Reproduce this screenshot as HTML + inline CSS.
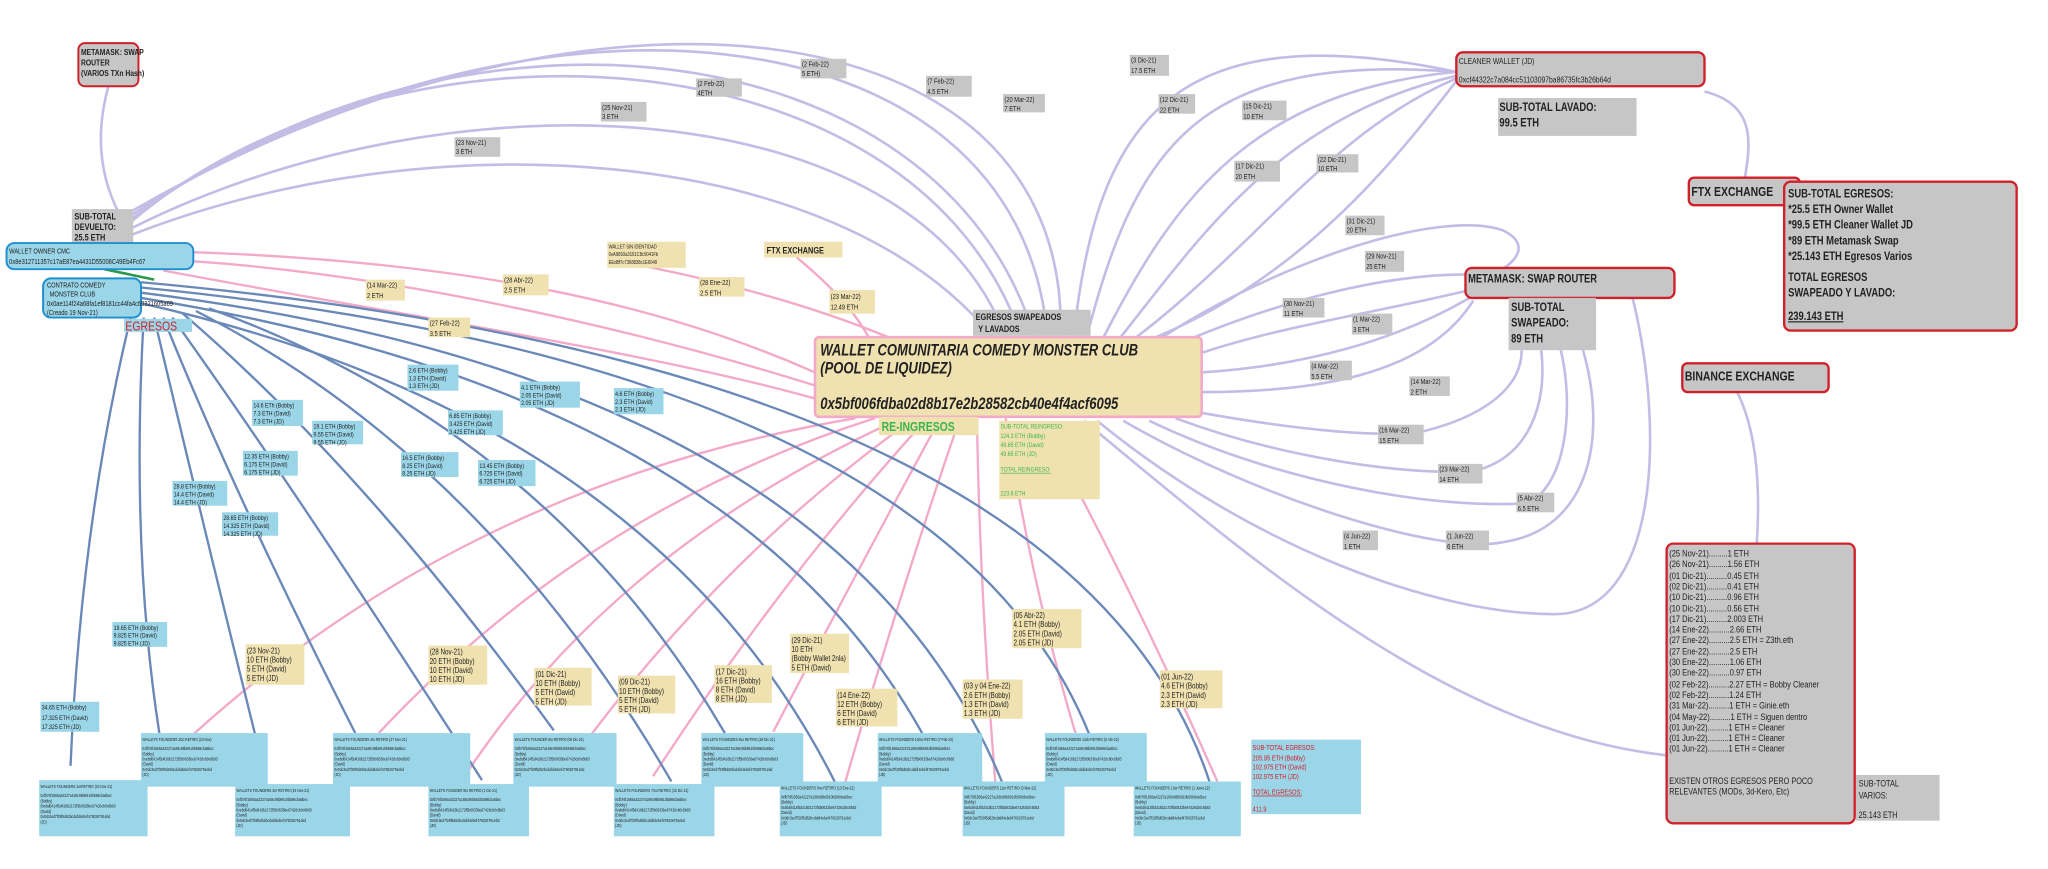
<!DOCTYPE html>
<html><head><meta charset="utf-8"><style>
html,body{margin:0;padding:0;background:#fff;}
svg{display:block;}
text{font-family:"Liberation Sans Narrow","Liberation Sans",sans-serif;fill:#222;transform-box:fill-box;transform-origin:left center;transform:scaleX(0.8);}
.b{font-weight:bold;}
.pu{fill:none;stroke:#c3bde6;stroke-width:2;}
.pk{fill:none;stroke:#f3a9c8;stroke-width:1.8;}
.bl{fill:none;stroke:#6a88b8;stroke-width:1.8;}
.g{fill:#c6c6c6;}
.y{fill:#f0e2b0;}
.c{fill:#9bd6e8;}
</style></head><body>
<svg width="2048" height="869" viewBox="0 0 1568 665" preserveAspectRatio="none" xmlns="http://www.w3.org/2000/svg">
<rect width="1568" height="665" fill="#fff"/>
<path class="pu" d="M83,66 Q68,120 92,165"/>
<path class="pu" d="M100,180 C330,90 640,110 760,258"/>
<path class="pu" d="M100,175 C350,50 700,70 770,258"/>
<path class="pu" d="M100,170 C300,0 700,20 782,258"/>
<path class="pu" d="M100,168 C350,-20 720,20 792,258"/>
<path class="pu" d="M100,165 C400,-30 780,0 802,258"/>
<path class="pu" d="M100,162 C450,-40 820,0 812,258"/>
<path class="pu" d="M822,258 C840,90 900,10 1115,55"/>
<path class="pu" d="M832,258 C870,110 920,40 1115,55"/>
<path class="pu" d="M845,258 C900,150 960,70 1115,55"/>
<path class="pu" d="M858,258 C920,180 980,90 1115,58"/>
<path class="pu" d="M870,258 C960,190 1020,100 1115,60"/>
<path class="pu" d="M885,258 C1000,210 1070,120 1115,62"/>
<path class="pu" d="M1305,70 C1345,80 1340,110 1336,136"/>
<path class="pu" d="M890,258 C980,200 1100,160 1150,176 C1180,190 1150,210 1130,215"/>
<path class="pu" d="M905,262 C980,230 1060,210 1122,210"/>
<path class="pu" d="M920,270 C980,250 1050,240 1125,222"/>
<path class="pu" d="M920,285 C1000,280 1070,260 1125,228"/>
<path class="pu" d="M920,300 C1000,300 1090,290 1128,230"/>
<path class="pu" d="M920,316 C1000,330 1060,335 1090,330 C1130,320 1165,300 1165,268"/>
<path class="pu" d="M900,320 C980,350 1080,365 1130,360 C1170,350 1185,310 1180,268"/>
<path class="pu" d="M880,322 C980,370 1100,390 1170,385 C1200,370 1205,310 1195,268"/>
<path class="pu" d="M860,322 C960,380 1100,425 1150,415 C1220,405 1230,330 1212,268"/>
<path class="pu" d="M840,322 C960,420 1100,470 1190,470 C1270,470 1275,330 1250,228"/>
<path class="pu" d="M830,322 C960,430 1110,560 1276,578"/>
<path class="pu" d="M1330,300 Q1350,340 1345,416"/>
<path class="pk" d="M148,193 C350,200 500,230 624,285"/>
<path class="pk" d="M148,200 C300,210 480,250 624,295"/>
<path class="pk" d="M125,207 C300,240 500,270 624,305"/>
<path class="pk" d="M490,203 Q600,225 680,258"/>
<path class="pk" d="M610,197 Q650,230 665,258"/>
<path class="pk" d="M655,320 Q360,370 148,562"/>
<path class="pk" d="M670,320 Q450,390 290,561"/>
<path class="pk" d="M690,320 Q470,420 355,595"/>
<path class="pk" d="M700,320 Q560,420 452,563"/>
<path class="pk" d="M710,320 Q600,440 500,594"/>
<path class="pk" d="M720,320 Q660,430 592,560"/>
<path class="pk" d="M735,320 Q690,450 647,599"/>
<path class="pk" d="M748,320 Q750,450 762,598"/>
<path class="pk" d="M770,320 Q790,450 824,563"/>
<path class="pk" d="M825,375 Q880,480 932,598"/>
<line x1="80" y1="206" x2="118" y2="214" stroke="#2a9a4a" stroke-width="2"/>
<path class="bl" d="M100,243 Q62,400 54,586"/>
<path class="bl" d="M110,243 Q100,420 122,561"/>
<path class="bl" d="M118,243 Q155,400 203,593"/>
<path class="bl" d="M125,243 Q180,380 272,561"/>
<path class="bl" d="M132,243 Q230,380 369,597"/>
<path class="bl" d="M140,240 Q280,360 424,559"/>
<path class="bl" d="M150,238 Q370,350 514,598"/>
<path class="bl" d="M160,236 Q420,330 555,561"/>
<path class="bl" d="M108,232 Q500,320 640,600"/>
<path class="bl" d="M108,228 Q560,300 706,561"/>
<path class="bl" d="M108,224 Q640,290 767,598"/>
<path class="bl" d="M108,220 Q720,280 834,562"/>
<path class="bl" d="M108,216 Q820,280 926,598"/>

<rect x="60" y="33" width="46" height="33" rx="5" fill="#c6c6c6" stroke="#d0202a" stroke-width="1.5"/>
<text x="62" y="42" font-size="6.5" class="b">METAMASK: SWAP</text>
<text x="62" y="50" font-size="6.5" class="b">ROUTER</text>
<text x="62" y="58" font-size="6.5" class="b">(VARIOS TXn Hash)</text>
<rect x="55" y="160" width="47" height="27" class="g"/>
<text x="57" y="168" font-size="7" class="b">SUB-TOTAL</text>
<text x="57" y="176" font-size="7" class="b">DEVUELTO:</text>
<text x="57" y="184" font-size="7" class="b">25.5 ETH</text>
<rect x="5" y="186" width="143" height="20" rx="6" fill="#9bd6e8" stroke="#1f8fd0" stroke-width="1.5"/>
<text x="7" y="194" font-size="5.5">WALLET OWNER CMC</text>
<text x="7" y="202" font-size="5.5">0x8e312711357c17aE87ea4431D55008C49Eb4Fc67</text>
<rect x="33" y="213" width="75" height="30" rx="6" fill="#9bd6e8" stroke="#1f8fd0" stroke-width="1.5"/>
<text x="36" y="220" font-size="5.5">CONTRATO COMEDY</text>
<text x="38" y="227" font-size="5.5">MONSTER CLUB</text>
<text x="36" y="234" font-size="5.5">0x0ae114f24a68fa1ef8181cc44fa4c60321605a69</text>
<text x="36" y="241" font-size="5.5">(Creado 19 Nov-21)</text>
<rect x="95" y="244" width="52" height="10" class="c"/>
<text x="96" y="253" font-size="10" style="fill:#d0202a">EGRESOS</text>

<rect x="624" y="258" width="296" height="61" fill="#f0e2b0" stroke="#f3a9c8" stroke-width="2" rx="3"/>
<text x="628" y="272" font-size="12.5" class="b" font-style="italic">WALLET COMUNITARIA COMEDY MONSTER CLUB</text>
<text x="628" y="286" font-size="12.5" class="b" font-style="italic">(POOL DE LIQUIDEZ)</text>
<text x="628" y="313" font-size="12.5" class="b" font-style="italic">0x5bf006fdba02d8b17e2b28582cb40e4f4acf6095</text>
<rect x="745" y="237" width="90" height="20" class="g"/>
<text x="747" y="245" font-size="7" class="b">EGRESOS SWAPEADOS</text>
<text x="749" y="254" font-size="7" class="b">Y LAVADOS</text>
<rect x="673" y="319" width="76" height="14" fill="#f0e2b0"/>
<text x="675" y="330" font-size="10" class="b" style="fill:#3bb54a">RE-INGRESOS</text>
<rect x="765" y="322" width="77" height="60" class="y"/>
<g font-size="5">
<text x="766" y="328" style="fill:#3bb54a">SUB-TOTAL REINGRESO:</text>
<text x="766" y="335" style="fill:#3bb54a">124.3 ETH (Bobby)</text>
<text x="766" y="342" style="fill:#3bb54a">49.65 ETH (David)</text>
<text x="766" y="349" style="fill:#3bb54a">49.65 ETH (JD)</text>
<text x="766" y="361" style="fill:#3bb54a;text-decoration:underline">TOTAL REINGRESO:</text>
<text x="766" y="379" style="fill:#3bb54a">223.6 ETH</text>
</g>
<rect x="465" y="185" width="60" height="20" class="y"/>
<text x="466" y="190" font-size="4">WALLET SIN IDENTIDAD</text>
<text x="466" y="196" font-size="4">0xA9893a3191C8c9041Fb</text>
<text x="466" y="202" font-size="4">EEd8f7c7368838c1E6049</text>
<rect x="585" y="185" width="60" height="12" class="y"/>
<text x="587" y="194" font-size="7" class="b">FTX EXCHANGE</text>

<rect x="1115" y="40" width="190" height="26" rx="5" fill="#c6c6c6" stroke="#d0202a" stroke-width="1.8"/>
<text x="1117" y="49" font-size="6.5">CLEANER WALLET (JD)</text>
<text x="1117" y="63" font-size="6.5">0xcf44322c7a084cc51103097ba86735fc3b26b64d</text>
<rect x="1147" y="75" width="106" height="29" class="g"/>
<text x="1148" y="85" font-size="9" class="b">SUB-TOTAL LAVADO:</text>
<text x="1148" y="97" font-size="9" class="b">99.5 ETH</text>
<rect x="1293" y="136" width="85" height="21" rx="4" fill="#c6c6c6" stroke="#d0202a" stroke-width="1.8"/>
<text x="1295" y="150" font-size="10" class="b">FTX EXCHANGE</text>
<rect x="1366" y="139" width="178" height="114" rx="5" fill="#c6c6c6" stroke="#d0202a" stroke-width="1.8"/>
<g font-size="9" class="b">
<text x="1369" y="151">SUB-TOTAL EGRESOS:</text>
<text x="1369" y="163">*25.5 ETH Owner Wallet</text>
<text x="1369" y="175">*99.5 ETH Cleaner Wallet JD</text>
<text x="1369" y="187">*89 ETH Metamask Swap</text>
<text x="1369" y="199">*25.143 ETH Egresos Varios</text>
<text x="1369" y="215">TOTAL EGRESOS</text>
<text x="1369" y="227">SWAPEADO Y LAVADO:</text>
<text x="1369" y="245" style="text-decoration:underline">239.143 ETH</text>
</g>
<rect x="1122" y="205" width="160" height="23" rx="5" fill="#c6c6c6" stroke="#d0202a" stroke-width="1.8"/>
<text x="1124" y="216" font-size="9" class="b">METAMASK: SWAP ROUTER</text>
<rect x="1155" y="228" width="67" height="40" class="g"/>
<text x="1157" y="238" font-size="9" class="b">SUB-TOTAL</text>
<text x="1157" y="250" font-size="9" class="b">SWAPEADO:</text>
<text x="1157" y="262" font-size="9" class="b">89 ETH</text>
<rect x="1288" y="278" width="112" height="22" rx="4" fill="#c6c6c6" stroke="#d0202a" stroke-width="1.8"/>
<text x="1290" y="291" font-size="10" class="b">BINANCE EXCHANGE</text>
<rect x="1276" y="416" width="144" height="214" rx="5" fill="#c6c6c6" stroke="#d0202a" stroke-width="1.8"/>
<g font-size="7.2">
<text x="1278" y="426">(25 Nov-21).........1 ETH</text>
<text x="1278" y="434">(26 Nov-21).........1.56 ETH</text>
<text x="1278" y="443">(01 Dic-21)..........0.45 ETH</text>
<text x="1278" y="451">(02 Dic-21)..........0.41 ETH</text>
<text x="1278" y="459">(10 Dic-21)..........0.96 ETH</text>
<text x="1278" y="468">(10 Dic-21)..........0.56 ETH</text>
<text x="1278" y="476">(17 Dic-21)..........2.003 ETH</text>
<text x="1278" y="484">(14 Ene-22)..........2.66 ETH</text>
<text x="1278" y="492">(27 Ene-22)..........2.5 ETH  = Z3th.eth</text>
<text x="1278" y="501">(27 Ene-22)..........2.5 ETH</text>
<text x="1278" y="509">(30 Ene-22)..........1.06 ETH</text>
<text x="1278" y="517">(30 Ene-22)..........0.97 ETH</text>
<text x="1278" y="526">(02 Feb-22)..........2.27 ETH = Bobby Cleaner</text>
<text x="1278" y="534">(02 Feb-22)..........1.24 ETH</text>
<text x="1278" y="542">(31 Mar-22)..........1 ETH = Ginie.eth</text>
<text x="1278" y="551">(04 May-22)..........1 ETH = Siguen dentro</text>
<text x="1278" y="559">(01 Jun-22)..........1 ETH = Cleaner</text>
<text x="1278" y="567">(01 Jun-22)..........1 ETH = Cleaner</text>
<text x="1278" y="575">(01 Jun-22)..........1 ETH = Cleaner</text>
</g>
<g font-size="7"><text x="1278" y="600">EXISTEN OTROS EGRESOS PERO POCO</text><text x="1278" y="608">RELEVANTES (MODs, 3d-Kero, Etc)</text></g>
<rect x="1421" y="593" width="64" height="35" class="g"/>
<text x="1423" y="602" font-size="7">SUB-TOTAL</text>
<text x="1423" y="611" font-size="7">VARIOS:</text>
<text x="1423" y="626" font-size="7">25.143 ETH</text>

<rect x="958" y="566" width="84" height="57" class="c"/>
<g font-size="5.5">
<text x="959" y="574" style="fill:#d0202a">SUB-TOTAL EGRESOS:</text>
<text x="959" y="582" style="fill:#d0202a">205.95 ETH (Bobby)</text>
<text x="959" y="589" style="fill:#d0202a">102.975 ETH (David)</text>
<text x="959" y="596" style="fill:#d0202a">102.975 ETH (JD)</text>
<text x="959" y="608" style="fill:#d0202a;text-decoration:underline">TOTAL EGRESOS:</text>
<text x="959" y="621" style="fill:#d0202a">411.9</text>
</g>

<g font-size="5.5">
<rect x="348" y="105" width="35" height="15" class="g"/><text x="349" y="111">(23 Nov-21)</text><text x="349" y="118">3 ETH</text>
<rect x="460" y="78" width="35" height="15" class="g"/><text x="461" y="84">(25 Nov-21)</text><text x="461" y="91">3 ETH</text>
<rect x="533" y="60" width="35" height="14" class="g"/><text x="534" y="66">(2 Feb-22)</text><text x="534" y="73">4ETH</text>
<rect x="613" y="45" width="35" height="15" class="g"/><text x="614" y="51">(2 Feb-22)</text><text x="614" y="58">5 ETH)</text>
<rect x="709" y="58" width="35" height="16" class="g"/><text x="710" y="64">(7 Feb-22)</text><text x="710" y="72">4.5 ETH</text>
<rect x="768" y="72" width="32" height="14" class="g"/><text x="769" y="78">(20 Mar-22)</text><text x="769" y="85">7 ETH</text>
<rect x="865" y="42" width="30" height="16" class="g"/><text x="866" y="48">(3 Dic-21)</text><text x="866" y="56">17.5 ETH</text>
<rect x="887" y="72" width="28" height="15" class="g"/><text x="888" y="78">(12 Dic-21)</text><text x="888" y="86">22 ETH</text>
<rect x="951" y="77" width="34" height="15" class="g"/><text x="952" y="83">(15 Dic-21)</text><text x="952" y="91">10 ETH</text>
<rect x="945" y="123" width="35" height="16" class="g"/><text x="946" y="129">(17 Dic-21)</text><text x="946" y="137">20 ETH</text>
<rect x="1008" y="118" width="32" height="14" class="g"/><text x="1009" y="124">(22 Dic-21)</text><text x="1009" y="131">10 ETH</text>
<rect x="1030" y="165" width="30" height="15" class="g"/><text x="1031" y="171">(31 Dic-21)</text><text x="1031" y="178">20 ETH</text>
<rect x="1045" y="192" width="30" height="16" class="g"/><text x="1046" y="198">(29 Nov-21)</text><text x="1046" y="206">25 ETH</text>
<rect x="982" y="228" width="32" height="15" class="g"/><text x="983" y="234">(30 Nov-21)</text><text x="983" y="242">11 ETH</text>
<rect x="1035" y="240" width="31" height="16" class="g"/><text x="1036" y="246">(1 Mar-22)</text><text x="1036" y="254">3 ETH</text>
<rect x="1003" y="276" width="32" height="15" class="g"/><text x="1004" y="282">(4 Mar-22)</text><text x="1004" y="290">5.5 ETH</text>
<rect x="1079" y="288" width="31" height="15" class="g"/><text x="1080" y="294">(14 Mar-22)</text><text x="1080" y="302">2 ETH</text>
<rect x="1055" y="325" width="35" height="15" class="g"/><text x="1056" y="331">(16 Mar-22)</text><text x="1056" y="339">15 ETH</text>
<rect x="1101" y="355" width="34" height="15" class="g"/><text x="1102" y="361">(23 Mar-22)</text><text x="1102" y="369">14 ETH</text>
<rect x="1161" y="377" width="29" height="15" class="g"/><text x="1162" y="383">(5 Abr-22)</text><text x="1162" y="391">6.5 ETH</text>
<rect x="1107" y="406" width="33" height="15" class="g"/><text x="1108" y="412">(1 Jun-22)</text><text x="1108" y="420">6 ETH</text>
<rect x="1028" y="406" width="27" height="15" class="g"/><text x="1029" y="412">(4 Jun-22)</text><text x="1029" y="420">1 ETH</text>
</g>
<g font-size="5.5">
<rect x="280" y="214" width="30" height="16" class="y"/><text x="281" y="220">(14 Mar-22)</text><text x="281" y="228">2 ETH</text>
<rect x="385" y="210" width="35" height="16" class="y"/><text x="386" y="216">(28 Abr-22)</text><text x="386" y="224">2.5 ETH</text>
<rect x="328" y="243" width="32" height="15" class="y"/><text x="329" y="249">(27 Feb-22)</text><text x="329" y="257">3.5 ETH</text>
<rect x="535" y="212" width="35" height="15" class="y"/><text x="536" y="218">(28 Ene-22)</text><text x="536" y="226">2.5 ETH</text>
<rect x="635" y="222" width="35" height="18" class="y"/><text x="636" y="229">(23 Mar-22)</text><text x="636" y="237">12.49 ETH</text>
</g>
<g font-size="5">
<rect x="31" y="537" width="45" height="23" class="c"/><text x="32" y="543">34.65 ETH (Bobby)</text><text x="32" y="551">17.325 ETH (David)</text><text x="32" y="558">17.325 ETH (JD)</text>
<rect x="86" y="476" width="42" height="19" class="c"/><text x="87" y="482">19.65 ETH (Bobby)</text><text x="87" y="488">9.825 ETH (David)</text><text x="87" y="494">9.825 ETH (JD)</text>
<rect x="132" y="368" width="42" height="19" class="c"/><text x="133" y="374">28.8 ETH (Bobby)</text><text x="133" y="380">14.4 ETH (David)</text><text x="133" y="386">14.4 ETH (JD)</text>
<rect x="170" y="392" width="43" height="18" class="c"/><text x="171" y="398">28.65 ETH (Bobby)</text><text x="171" y="404">14.325 ETH (David)</text><text x="171" y="410">14.325 ETH (JD)</text>
<rect x="186" y="345" width="42" height="19" class="c"/><text x="187" y="351">12.35 ETH (Bobby)</text><text x="187" y="357">6.175 ETH (David)</text><text x="187" y="363">6.175 ETH (JD)</text>
<rect x="193" y="306" width="39" height="20" class="c"/><text x="194" y="312">14.6 ETh (Bobby)</text><text x="194" y="318">7.3 ETH (David)</text><text x="194" y="324">7.3 ETH (JD)</text>
<rect x="239" y="322" width="39" height="18" class="c"/><text x="240" y="328">19.1 ETH (Bobby)</text><text x="240" y="334">9.55 ETH (David)</text><text x="240" y="340">9.55 ETH (JD)</text>
<rect x="307" y="346" width="44" height="19" class="c"/><text x="308" y="352">16.5 ETH (Bobby)</text><text x="308" y="358">8.25 ETH (David)</text><text x="308" y="364">8.25 ETH (JD)</text>
<rect x="366" y="352" width="44" height="20" class="c"/><text x="367" y="358">13.45 ETH (Bobby)</text><text x="367" y="364">6.725 ETH (David)</text><text x="367" y="370">6.725 ETH (JD)</text>
<rect x="312" y="279" width="39" height="20" class="c"/><text x="313" y="285">2.6 ETH (Bobby)</text><text x="313" y="291">1.3 ETH (David)</text><text x="313" y="297">1.3 ETH (JD)</text>
<rect x="343" y="314" width="42" height="19" class="c"/><text x="344" y="320">6.85 ETH (Bobby)</text><text x="344" y="326">3.425 ETH (David)</text><text x="344" y="332">3.425 ETH (JD)</text>
<rect x="398" y="292" width="46" height="20" class="c"/><text x="399" y="298">4.1 ETH (Bobby)</text><text x="399" y="304">2.05 ETH (David)</text><text x="399" y="310">2.05 ETH (JD)</text>
<rect x="470" y="297" width="38" height="20" class="c"/><text x="471" y="303">4.6 ETH (Bobby)</text><text x="471" y="309">2.3 ETH (David)</text><text x="471" y="315">2.3 ETH (JD)</text>
</g>
<g font-size="6">
<rect x="188" y="493" width="45" height="31" class="y"/><text x="189" y="500">(23 Nov-21)</text><text x="189" y="507">10 ETH (Bobby)</text><text x="189" y="514">5 ETH (David)</text><text x="189" y="521">5 ETH (JD)</text>
<rect x="328" y="494" width="45" height="30" class="y"/><text x="329" y="501">(28 Nov-21)</text><text x="329" y="508">20 ETH (Bobby)</text><text x="329" y="515">10 ETH (David)</text><text x="329" y="522">10 ETH (JD)</text>
<rect x="409" y="511" width="44" height="29" class="y"/><text x="410" y="518">(01 Dic-21)</text><text x="410" y="525">10 ETH (Bobby)</text><text x="410" y="532">5 ETH (David)</text><text x="410" y="539">5 ETH (JD)</text>
<rect x="473" y="517" width="44" height="29" class="y"/><text x="474" y="524">(09 Dic-21)</text><text x="474" y="531">10 ETH (Bobby)</text><text x="474" y="538">5 ETH (David)</text><text x="474" y="545">5 ETH (JD)</text>
<rect x="547" y="509" width="44" height="29" class="y"/><text x="548" y="516">(17 Dic-21)</text><text x="548" y="523">16 ETH (Bobby)</text><text x="548" y="530">8 ETH (David)</text><text x="548" y="537">8 ETH (JD)</text>
<rect x="605" y="485" width="45" height="30" class="y"/><text x="606" y="492">(29 Dic-21)</text><text x="606" y="499">10 ETH</text><text x="606" y="506">(Bobby Wallet 2nla)</text><text x="606" y="513">5 ETH (David)</text>
<rect x="640" y="527" width="47" height="29" class="y"/><text x="641" y="534">(14 Ene-22)</text><text x="641" y="541">12 ETH (Bobby)</text><text x="641" y="548">6 ETH (David)</text><text x="641" y="555">6 ETH (JD)</text>
<rect x="737" y="520" width="46" height="30" class="y"/><text x="738" y="527">(03 y 04 Ene-22)</text><text x="738" y="534">2.6 ETH (Bobby)</text><text x="738" y="541">1.3 ETH (David)</text><text x="738" y="548">1.3 ETH (JD)</text>
<rect x="775" y="466" width="53" height="30" class="y"/><text x="776" y="473">(05 Abr-22)</text><text x="776" y="480">4.1 ETH (Bobby)</text><text x="776" y="487">2.05 ETH (David)</text><text x="776" y="494">2.05 ETH (JD)</text>
<rect x="888" y="513" width="48" height="29" class="y"/><text x="889" y="520">(01 Jun-22)</text><text x="889" y="527">4.6 ETH (Bobby)</text><text x="889" y="534">2.3 ETH (David)</text><text x="889" y="541">2.3 ETH (JD)</text>
</g>
<g font-size="3.2">
<rect x="30" y="597" width="83" height="43" class="c"/><text x="31" y="603">WALLETS FOUNDERS 1erRETIRO (23 Nov-21)</text><text x="31" y="610">0xfb76f1656a42227a168c98b6910b598cba6bec</text><text x="31" y="614">(Bobby)</text><text x="31" y="618">0xebd6414f5d416b2172f5b0633be67426cb0c6b83</text><text x="31" y="622">(David)</text><text x="31" y="626">0x0dc3ed7f29f5d62bcdafd4ebef476026791ebd</text><text x="31" y="630">(JD)</text>
<rect x="108" y="561" width="97" height="41" class="c"/><text x="109" y="567">WALLETS FOUNDERS 2Do RETIRO (23 Nov)</text><text x="109" y="574">0xfb76f1656a42227a168c98b6910b598cba6bec</text><text x="109" y="578">(Bobby)</text><text x="109" y="582">0xebd6414f5d416b2172f5b0633be67426cb0c6b83</text><text x="109" y="586">(David)</text><text x="109" y="590">0x0dc3ed7f29f5d62bcdafd4ebef476026791ebd</text><text x="109" y="594">(JD)</text>
<rect x="180" y="600" width="88" height="40" class="c"/><text x="181" y="606">WALLETS FOUNDERS 3er RETIRO (24 Nov-21)</text><text x="181" y="613">0xfb76f1656a42227a168c98b6910b598cba6bec</text><text x="181" y="617">(Bobby)</text><text x="181" y="621">0xebd6414f5d416b2172f5b0633be67426cb0c6b83</text><text x="181" y="625">(David)</text><text x="181" y="629">0x0dc3ed7f29f5d62bcdafd4ebef476026791ebd</text><text x="181" y="633">(JD)</text>
<rect x="255" y="561" width="105" height="41" class="c"/><text x="256" y="567">WALLETS FOUNDERS 4to RETIRO (27 Nov-21)</text><text x="256" y="574">0xfb76f1656a42227a168c98b6910b598cba6bec</text><text x="256" y="578">(Bobby)</text><text x="256" y="582">0xebd6414f5d416b2172f5b0633be67426cb0c6b83</text><text x="256" y="586">(David)</text><text x="256" y="590">0x0dc3ed7f29f5d62bcdafd4ebef476026791ebd</text><text x="256" y="594">(JD)</text>
<rect x="328" y="600" width="77" height="40" class="c"/><text x="329" y="606">WALLETS FOUNDER 5to RETIRO (1 Dic-21)</text><text x="329" y="613">0xfb76f1656a42227a168c98b6910b598cba6bec</text><text x="329" y="617">(Bobby)</text><text x="329" y="621">0xebd6414f5d416b2172f5b0633be67426cb0c6b83</text><text x="329" y="625">(David)</text><text x="329" y="629">0x0dc3ed7f29f5d62bcdafd4ebef476026791ebd</text><text x="329" y="633">(JD)</text>
<rect x="393" y="561" width="79" height="41" class="c"/><text x="394" y="567">WALLETS FOUNDER 6to RETIRO (09 Dic-21)</text><text x="394" y="574">0xfb76f1656a42227a168c98b6910b598cba6bec</text><text x="394" y="578">(Bobby)</text><text x="394" y="582">0xebd6414f5d416b2172f5b0633be67426cb0c6b83</text><text x="394" y="586">(David)</text><text x="394" y="590">0x0dc3ed7f29f5d62bcdafd4ebef476026791ebd</text><text x="394" y="594">(JD)</text>
<rect x="470" y="600" width="77" height="40" class="c"/><text x="471" y="606">WALLETS FOUNDERS 7mo RETIRO (15 Dic-21)</text><text x="471" y="613">0xfb76f1656a42227a168c98b6910b598cba6bec</text><text x="471" y="617">(Bobby)</text><text x="471" y="621">0xebd6414f5d416b2172f5b0633be67426cb0c6b83</text><text x="471" y="625">(David)</text><text x="471" y="629">0x0dc3ed7f29f5d62bcdafd4ebef476026791ebd</text><text x="471" y="633">(JD)</text>
<rect x="537" y="561" width="78" height="41" class="c"/><text x="538" y="567">WALLETS FOUNDERS 8vo RETIRO (29 Dic-21)</text><text x="538" y="574">0xfb76f1656a42227a168c98b6910b598cba6bec</text><text x="538" y="578">(Bobby)</text><text x="538" y="582">0xebd6414f5d416b2172f5b0633be67426cb0c6b83</text><text x="538" y="586">(David)</text><text x="538" y="590">0x0dc3ed7f29f5d62bcdafd4ebef476026791ebd</text><text x="538" y="594">(JD)</text>
<rect x="597" y="598" width="78" height="42" class="c"/><text x="598" y="604">WALLETS FOUNDERS 9no RETIRO (13 Ene-22)</text><text x="598" y="611">0xfb76f1656a42227a168c98b6910b598cba6bec</text><text x="598" y="615">(Bobby)</text><text x="598" y="619">0xebd6414f5d416b2172f5b0633be67426cb0c6b83</text><text x="598" y="623">(David)</text><text x="598" y="627">0x0dc3ed7f29f5d62bcdafd4ebef476026791ebd</text><text x="598" y="631">(JD)</text>
<rect x="672" y="561" width="80" height="41" class="c"/><text x="673" y="567">WALLETS FOUNDERS 10mo RETIRO (7 Feb-22)</text><text x="673" y="574">0xfb76f1656a42227a168c98b6910b598cba6bec</text><text x="673" y="578">(Bobby)</text><text x="673" y="582">0xebd6414f5d416b2172f5b0633be67426cb0c6b83</text><text x="673" y="586">(David)</text><text x="673" y="590">0x0dc3ed7f29f5d62bcdafd4ebef476026791ebd</text><text x="673" y="594">(JD)</text>
<rect x="737" y="598" width="78" height="42" class="c"/><text x="738" y="604">WALLETS FOUNDERS 11er RETIRO (3 Mar-22)</text><text x="738" y="611">0xfb76f1656a42227a168c98b6910b598cba6bec</text><text x="738" y="615">(Bobby)</text><text x="738" y="619">0xebd6414f5d416b2172f5b0633be67426cb0c6b83</text><text x="738" y="623">(David)</text><text x="738" y="627">0x0dc3ed7f29f5d62bcdafd4ebef476026791ebd</text><text x="738" y="631">(JD)</text>
<rect x="800" y="561" width="78" height="41" class="c"/><text x="801" y="567">WALLETS FOUNDERS 12do RETIRO (5 Abr-22)</text><text x="801" y="574">0xfb76f1656a42227a168c98b6910b598cba6bec</text><text x="801" y="578">(Bobby)</text><text x="801" y="582">0xebd6414f5d416b2172f5b0633be67426cb0c6b83</text><text x="801" y="586">(David)</text><text x="801" y="590">0x0dc3ed7f29f5d62bcdafd4ebef476026791ebd</text><text x="801" y="594">(JD)</text>
<rect x="868" y="598" width="82" height="42" class="c"/><text x="869" y="604">WALLETS FOUNDERS 13er RETIRO (1 Junio-22)</text><text x="869" y="611">0xfb76f1656a42227a168c98b6910b598cba6bec</text><text x="869" y="615">(Bobby)</text><text x="869" y="619">0xebd6414f5d416b2172f5b0633be67426cb0c6b83</text><text x="869" y="623">(David)</text><text x="869" y="627">0x0dc3ed7f29f5d62bcdafd4ebef476026791ebd</text><text x="869" y="631">(JD)</text>
</g>
</svg>
</body></html>
